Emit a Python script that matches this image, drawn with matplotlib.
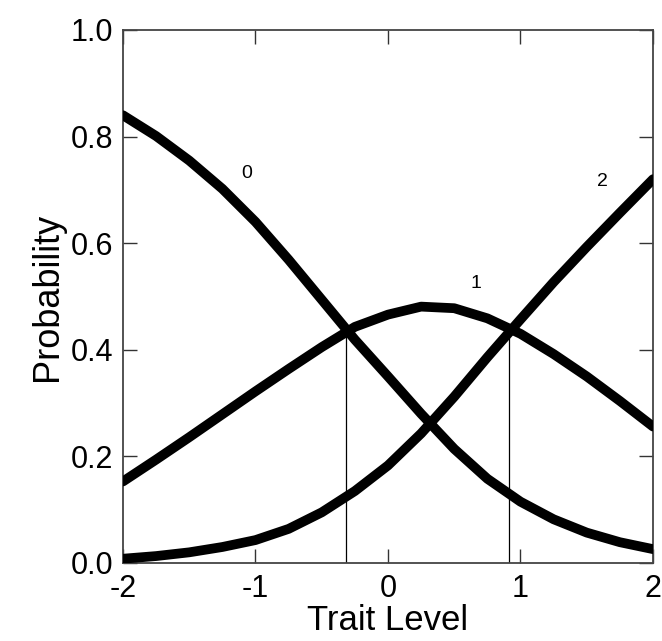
import matplotlib
matplotlib.use("Agg")
import matplotlib.pyplot as plt

plt.rcParams['font.family'] = ['Liberation Sans', 'DejaVu Sans']
plt.rcParams['axes.unicode_minus'] = False

# trait levels and category response probabilities
theta = [-2.0, -1.75, -1.5, -1.25, -1.0, -0.75, -0.5, -0.25, 0.0,
         0.25, 0.5, 0.75, 1.0, 1.25, 1.5, 1.75, 2.0]
p_cat0 = [0.840, 0.801, 0.755, 0.702, 0.640, 0.569, 0.494, 0.419, 0.350,
          0.280, 0.214, 0.158, 0.115, 0.082, 0.057, 0.039, 0.026]
p_cat1 = [0.153, 0.194, 0.236, 0.279, 0.322, 0.364, 0.405, 0.443, 0.466,
          0.481, 0.478, 0.459, 0.430, 0.392, 0.350, 0.304, 0.256]
p_cat2 = [0.008, 0.013, 0.020, 0.030, 0.043, 0.064, 0.095, 0.135, 0.183,
          0.243, 0.312, 0.386, 0.457, 0.527, 0.593, 0.657, 0.720]

# category labels and where they sit
cat_labels = ["0", "1", "2"]
label_x = [-1.07, 0.66, 1.62]
label_y = [0.730, 0.525, 0.715]

# thresholds where adjacent curves cross
cross_x = [-0.32, 0.91]
cross_y = [0.44, 0.437]

fig = plt.figure(figsize=(6.62, 6.41), dpi=100)
ax = fig.add_axes([0.1858, 0.1217, 0.8006, 0.8315])

for p in (p_cat0, p_cat1, p_cat2):
    ax.plot(theta, p, color="black", lw=7, solid_capstyle="round",
            solid_joinstyle="round", zorder=3)

for cx, cy in zip(cross_x, cross_y):
    ax.plot([cx, cx], [0, cy], color="black", lw=0.9, zorder=2)

for t, lx, ly in zip(cat_labels, label_x, label_y):
    ax.text(lx, ly, t, fontsize=14, ha="center", va="center")

ax.set_xlim(-2, 2)
ax.set_ylim(0, 1.0)
ax.set_xticks([-2, -1, 0, 1, 2])
ax.set_yticks([0.0, 0.2, 0.4, 0.6, 0.8, 1.0])
ax.set_yticklabels(["0.0", "0.2", "0.4", "0.6", "0.8", "1.0"])
ax.tick_params(direction="in", length=10, width=1, top=True, right=True,
               labelsize=22, color="#333333")
ax.tick_params(axis="x", pad=8)
ax.tick_params(axis="y", pad=7)
for s in ax.spines.values():
    s.set_linewidth(1.3)
    s.set_color("#444444")

ax.set_xlabel("Trait Level", fontsize=25, labelpad=0)
ax.set_ylabel("Probability", fontsize=26, labelpad=4)

fig.savefig("out.png", dpi=100)
